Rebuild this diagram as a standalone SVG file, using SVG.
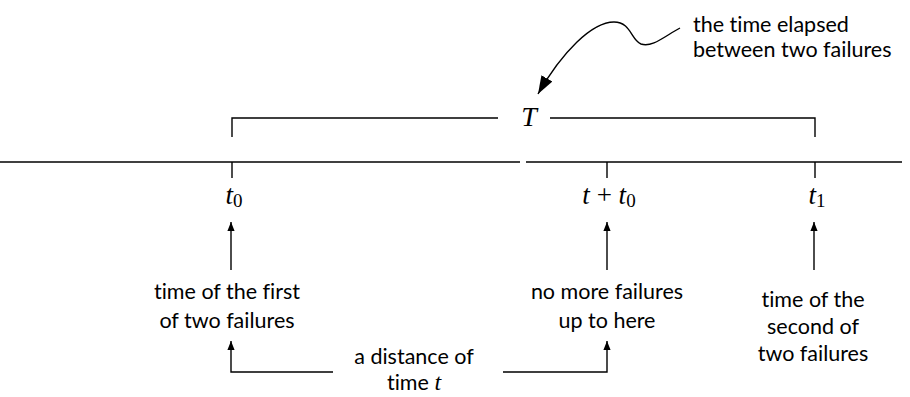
<svg xmlns="http://www.w3.org/2000/svg" width="910" height="397" viewBox="0 0 910 397">
<defs>
<style>
.ln{stroke:#000;stroke-width:1.4;fill:none}
.lbl{font-family:"Lato","Liberation Sans",sans-serif;font-size:21.5px;fill:#000;text-anchor:middle;font-variant-ligatures:none}
.math{font-family:"Liberation Serif",serif;font-size:27px;fill:#000;text-anchor:middle}
.sub{font-size:19px;font-style:normal}
.it{font-style:italic}
</style>
<marker id="ah" viewBox="0 0 10 10" refX="10" refY="5" markerWidth="9" markerHeight="9" markerUnits="userSpaceOnUse" orient="auto">
<path d="M0,1 L10,5 L0,9 Z" fill="#000"/>
</marker>
<marker id="bigah" viewBox="0 0 10 10" refX="10" refY="5" markerWidth="18" markerHeight="18" markerUnits="userSpaceOnUse" orient="auto">
<path d="M0,1.5 L10,5 L0,8.5 Z" fill="#000"/>
</marker>
</defs>
<rect width="910" height="397" fill="#fff"/>
<g id="connectors">
<line class="ln" x1="0" y1="162" x2="520" y2="162"/>
<line class="ln" x1="526" y1="162" x2="902" y2="162"/>
<polyline class="ln" points="232,137 232,118 498,118"/>
<polyline class="ln" points="550,118 815,118 815,137"/>
<line class="ln" x1="232" y1="162" x2="232" y2="178"/>
<line class="ln" x1="607" y1="162" x2="607" y2="178"/>
<line class="ln" x1="815" y1="162" x2="815" y2="178"/>
<line class="ln" x1="231" y1="270" x2="231" y2="222" marker-end="url(#ah)"/>
<line class="ln" x1="607" y1="270" x2="607" y2="222" marker-end="url(#ah)"/>
<line class="ln" x1="814" y1="270" x2="814" y2="222" marker-end="url(#ah)"/>
<polyline class="ln" points="333,372 231,372 231,341" marker-end="url(#ah)"/>
<polyline class="ln" points="503,372 607,372 607,341" marker-end="url(#ah)"/>
<path class="ln" d="M680,28 C665,36 652,48 641,44 C631,40 631,22 614,22 C592,22 562,52 538,94" marker-end="url(#bigah)"/>
</g>
<g id="T"><text class="math it" x="529" y="126" style="font-size:28px">T</text></g>
<g id="t0"><text class="math" x="234" y="204"><tspan class="it">t</tspan><tspan class="sub" dy="3">0</tspan></text></g>
<g id="tt0"><text class="math" x="609" y="204"><tspan class="it">t</tspan> + <tspan class="it">t</tspan><tspan class="sub" dy="3">0</tspan></text></g>
<g id="t1"><text class="math" x="817" y="204"><tspan class="it">t</tspan><tspan class="sub" dy="3">1</tspan></text></g>
<g id="elapsed">
<text class="lbl" x="693" y="32" style="text-anchor:start">the time elapsed</text>
<text class="lbl" x="693" y="57" style="text-anchor:start">between two failures</text>
</g>
<g id="first">
<text class="lbl" x="227" y="299">time of the first</text>
<text class="lbl" x="227" y="328">of two failures</text>
</g>
<g id="nomore">
<text class="lbl" x="607" y="299">no more failures</text>
<text class="lbl" x="607" y="328">up to here</text>
</g>
<g id="second">
<text class="lbl" x="813" y="307">time of the</text>
<text class="lbl" x="813" y="334">second of</text>
<text class="lbl" x="813" y="361">two failures</text>
</g>
<g id="distance">
<text class="lbl" x="414" y="364">a distance of</text>
<text class="lbl" x="414" y="390">time <tspan style="font-family:'Liberation Serif',serif;font-style:italic;font-size:24px">t</tspan></text>
</g>
</svg>
